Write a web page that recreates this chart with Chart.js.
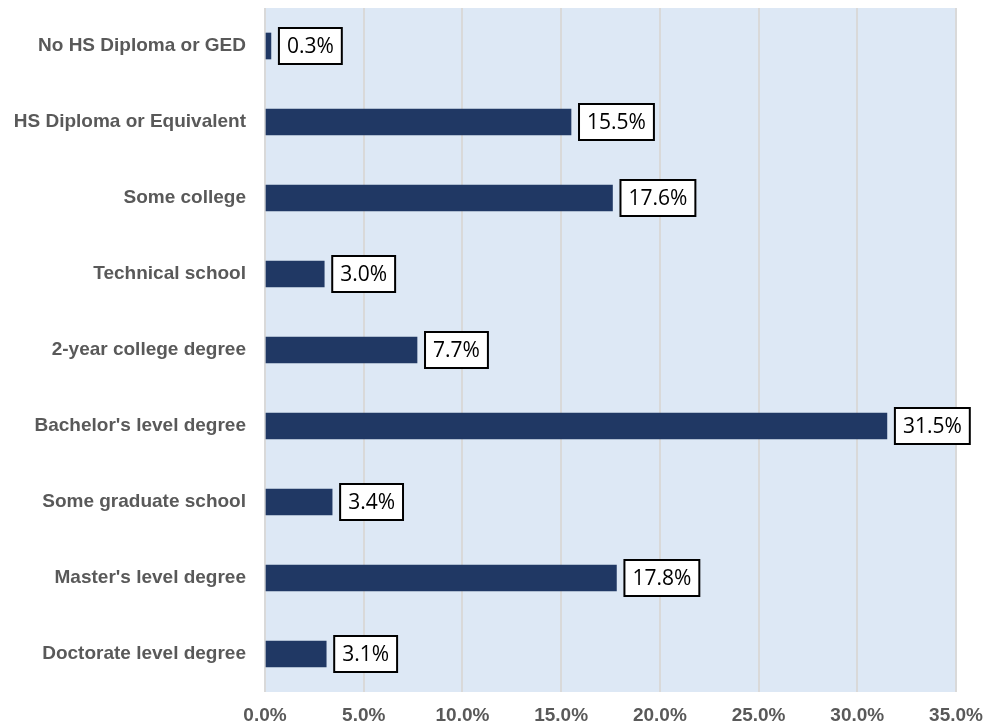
<!DOCTYPE html>
<html>
<head>
<meta charset="utf-8">
<script src="https://cdn.jsdelivr.net/npm/chart.js@4"></script>
<style>
html,body{margin:0;padding:0;background:#fff;}
#wrap{width:984px;height:727px;position:relative;}
</style>
</head>
<body>
<div id="wrap"><canvas id="c"></canvas></div>
<script>
const categories = [
  "No HS Diploma or GED",
  "HS Diploma or Equivalent",
  "Some college",
  "Technical school",
  "2-year college degree",
  "Bachelor's level degree",
  "Some graduate school",
  "Master's level degree",
  "Doctorate level degree"
];
const values = [0.3, 15.5, 17.6, 3.0, 7.7, 31.5, 3.4, 17.8, 3.1];
const xTickMax = 35;
const xTickStep = 5;

const bgPlugin = {
  id: 'plotBg',
  beforeDraw(chart) {
    const {ctx, chartArea: a} = chart;
    ctx.save();
    ctx.fillStyle = '#dde8f5';
    ctx.fillRect(a.left - 1, a.top, a.right - a.left + 2, a.bottom - a.top);
    ctx.restore();
  }
};

const labelPlugin = {
  id: 'boxLabels',
  afterDatasetsDraw(chart) {
    const ctx = chart.ctx;
    const meta = chart.getDatasetMeta(0);
    ctx.save();
    ctx.font = '21px "Open Sans", "Liberation Sans", sans-serif';
    ctx.textBaseline = 'middle';
    ctx.textAlign = 'left';
    meta.data.forEach((bar, i) => {
      const txt = values[i].toFixed(1) + '%';
      const w = ctx.measureText(txt).width;
      const padX = 8;
      const bw = w + padX * 2;
      const bh = 36;
      const x0 = bar.x + 8;
      const y0 = bar.y - bh / 2;
      ctx.fillStyle = '#ffffff';
      ctx.fillRect(x0, y0, bw, bh);
      ctx.lineWidth = 2;
      ctx.strokeStyle = '#000000';
      ctx.strokeRect(x0, y0, bw, bh);
      ctx.fillStyle = '#000000';
      ctx.fillText(txt, x0 + padX, bar.y + 1);
    });
    ctx.restore();
  }
};

new Chart(document.getElementById('c'), {
  type: 'bar',
  data: {
    labels: categories,
    datasets: [{
      data: values,
      backgroundColor: '#203864',
      barThickness: 26
    }]
  },
  options: {
    indexAxis: 'y',
    responsive: true,
    maintainAspectRatio: false,
    animation: false,
    layout: { padding: { top: 8, right: 28, left: 0, bottom: 0 } },
    plugins: {
      legend: { display: false },
      tooltip: { enabled: false }
    },
    scales: {
      x: {
        min: 0,
        max: xTickMax,
        border: { display: false },
        grid: { color: '#d9d9d9', lineWidth: 2, drawTicks: false },
        ticks: {
          stepSize: xTickStep,
          padding: 12,
          color: '#595959',
          font: { family: '"Liberation Sans", Arial, sans-serif', size: 19, weight: 'bold' },
          callback: v => v.toFixed(1) + '%',
          maxRotation: 0
        },
        afterFit(scale) {
          scale.height = 35;
          scale.paddingLeft = 0; scale.paddingRight = 0;
        }
      },
      y: {
        border: { display: false },
        grid: { display: false, drawTicks: false },
        ticks: {
          padding: 19,
          color: '#595959',
          font: { family: '"Liberation Sans", Arial, sans-serif', size: 19, weight: 'bold' }
        },
        afterFit(scale) {
          scale.width = 265;
          scale.paddingTop = 0; scale.paddingBottom = 0;
        }
      }
    }
  },
  plugins: [bgPlugin, labelPlugin]
});
</script>
</body>
</html>
